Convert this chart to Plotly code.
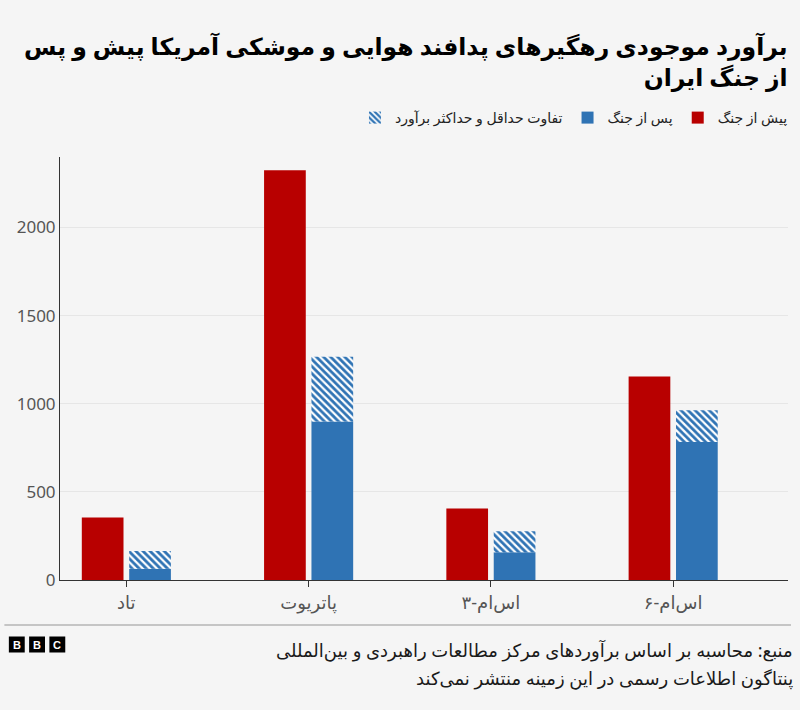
import plotly.graph_objects as go

# ---- data ----
categories = ["تاد", "پاتریوت", "اس‌ام-۳", "اس‌ام-۶"]
pre_war = [355, 2325, 406, 1155]
post_war_min = [64, 900, 157, 783]
post_war_max = [164, 1266, 277, 963]
range_diff = [mx - mn for mx, mn in zip(post_war_max, post_war_min)]

series_names = ["پیش از جنگ", "پس از جنگ", "تفاوت حداقل و حداکثر برآورد"]
y_ticks = [0, 500, 1000, 1500, 2000]

title_lines = ["برآورد موجودی رهگیرهای پدافند هوایی و موشکی آمریکا پیش و پس", "از جنگ ایران"]
source_lines = ["منبع: محاسبه بر اساس برآوردهای مرکز مطالعات راهبردی و بین‌المللی",
                "پنتاگون اطلاعات رسمی در این زمینه منتشر نمی‌کند"]

RED = "#b80000"
BLUE = "#2f73b4"
BG = "#f5f5f5"
FONT = "Noto Sans, DejaVu Sans, sans-serif"

W, H = 800, 710
ML, MR, MT, MB = 60, 7, 157, 130
PW = W - ML - MR
PH = H - MT - MB


def px_x(x):
    return (x - ML) / PW


def px_y(y):
    return (H - MB - y) / PH


fig = go.Figure()
fig.add_trace(go.Bar(x=categories, y=pre_war, name=series_names[0], offsetgroup="a",
                     marker=dict(color=RED, line=dict(width=0)), legendrank=1))
fig.add_trace(go.Bar(x=categories, y=post_war_min, name=series_names[1], offsetgroup="b",
                     marker=dict(color=BLUE, line=dict(width=0)), legendrank=2))
fig.add_trace(go.Bar(x=categories, y=range_diff, base=post_war_min, name=series_names[2],
                     offsetgroup="b",
                     marker=dict(color=BLUE, line=dict(width=0),
                                 pattern=dict(shape="\\", fgcolor=BLUE, bgcolor="#ffffff",
                                              fgopacity=1, size=5, solidity=0.55)),
                     legendrank=3))

annotations = []
# title
annotations.append(dict(
    xref="paper", yref="paper", x=px_x(795), y=px_y(28), xanchor="right", yanchor="top",
    text="<b>" + "<br>".join(title_lines) + "</b>", showarrow=False, align="right",
    font=dict(family=FONT, size=23.5, color="#000"),
))
# source
for i, line in enumerate(source_lines):
    annotations.append(dict(
        xref="paper", yref="paper", x=px_x(800), y=px_y(650 + 28 * i), xanchor="right",
        yanchor="middle", text=line, showarrow=False, align="right",
        font=dict(family=FONT, size=18, color="#1a1a1a"),
    ))

shapes = [dict(type="line", xref="paper", yref="paper", x0=px_x(4), x1=px_x(796),
               y0=px_y(625), y1=px_y(625), line=dict(color="#b5b5b5", width=1.5))]
# BBC logo
for i, letter in enumerate(["B", "B", "C"]):
    x0 = 8.5 + i * 20.4
    shapes.append(dict(type="rect", xref="paper", yref="paper", x0=px_x(x0), x1=px_x(x0 + 16),
                       y0=px_y(636.5), y1=px_y(652.5), fillcolor="#000", line=dict(width=0)))
    annotations.append(dict(xref="paper", yref="paper", x=px_x(x0 + 8), y=px_y(644.5),
                            xanchor="center", yanchor="middle", text="<b>" + letter + "</b>",
                            showarrow=False, font=dict(family="Liberation Sans, Arial", size=11, color="#fff")))

fig.update_layout(
    width=W, height=H,
    margin=dict(l=ML, r=MR, t=MT, b=MB),
    paper_bgcolor=BG, plot_bgcolor=BG,
    barmode="group", bargap=0.48, bargroupgap=0.12,
    showlegend=True,
    legend=dict(orientation="h", xanchor="right", x=px_x(798), yanchor="middle", y=px_y(118),
                traceorder="reversed", font=dict(family=FONT, size=14, color="#222"),
                bgcolor="rgba(0,0,0,0)", itemwidth=30),
    font=dict(family=FONT),
    annotations=annotations, shapes=shapes,
    hovermode=False,
)
fig.update_xaxes(type="category", range=[-0.364, 3.63], showline=True, linecolor="#333",
                 linewidth=1, ticks="outside", ticklen=6, tickcolor="#333",
                 tickfont=dict(family=FONT, size=18, color="#555"), showgrid=False, zeroline=False)
fig.update_yaxes(range=[0, 2400], tickvals=y_ticks, ticktext=[str(v) for v in y_ticks],
                 showline=True, linecolor="#333", linewidth=1, showgrid=True,
                 gridcolor="#e6e6e6", gridwidth=1, zeroline=False, ticks="",
                 tickfont=dict(family=FONT, size=17, color="#555"))

fig.write_html("out.html", config={"displayModeBar": False},
               post_script="document.body.style.margin='0';document.body.style.background='%s';" % BG)
